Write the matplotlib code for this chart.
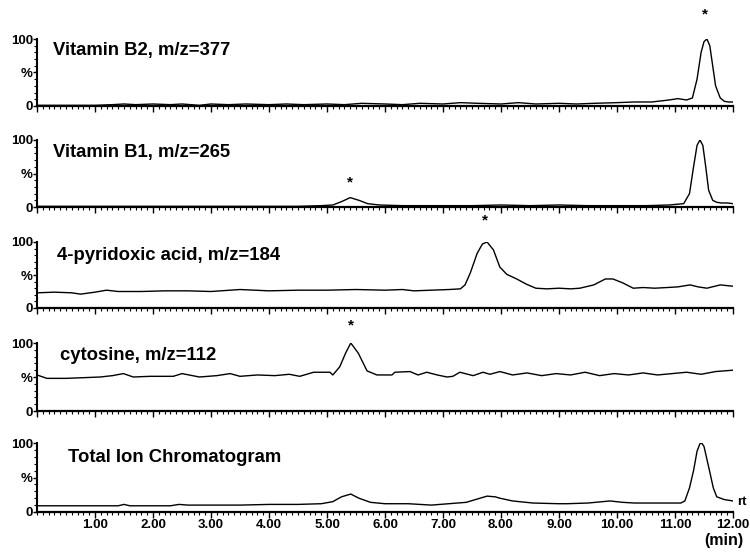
import numpy as np
import matplotlib
matplotlib.use('Agg')
import matplotlib.pyplot as plt
from matplotlib.ticker import MultipleLocator

plt.rcParams['font.family'] = ['Liberation Sans', 'DejaVu Sans']
plt.rcParams['font.weight'] = 'bold'

# retention time (min) / relative intensity (%)
b2_t = [0, 0.5, 1.0, 1.3, 1.5, 1.7, 2.0, 2.3, 2.5, 2.8, 3.0, 3.3, 3.6, 4.0, 4.3, 4.6,
        5.0, 5.3, 5.6, 6.0, 6.3, 6.6, 7.0, 7.3, 7.6, 8.0, 8.3, 8.6, 9.0, 9.3, 9.6, 10.0,
        10.3, 10.6, 10.9, 11.05, 11.2, 11.3, 11.38, 11.45, 11.5, 11.55, 11.6, 11.65,
        11.7, 11.78, 11.85, 11.92, 12.0]
b2_y = [1, 1, 1, 2, 3, 2, 3, 2, 3, 1, 3, 2, 3, 2, 3, 2,
        3, 2, 4, 3, 2, 4, 3, 5, 4, 3, 5, 3, 4, 3, 4, 5,
        6, 6, 9, 11, 9, 12, 40, 80, 96, 100, 90, 60,
        30, 12, 7, 6, 6]

b1_t = [0, 0.5, 1, 1.5, 2, 2.5, 3, 3.5, 4, 4.5, 4.9, 5.1, 5.25, 5.4, 5.55, 5.7, 5.9,
        6.3, 7, 7.5, 8, 8.5, 9, 9.5, 10, 10.5, 10.9, 11.15, 11.25, 11.32, 11.38, 11.43,
        11.48, 11.53, 11.58, 11.65, 11.72, 11.8, 11.9, 12.0]
b1_y = [1, 1, 1, 1, 1, 1, 1, 1, 1, 1, 2, 3, 8, 14, 10, 5, 3,
        2, 2, 2, 3, 2, 3, 2, 2, 2, 3, 5, 20, 60, 92, 100,
        92, 60, 25, 10, 7, 6, 6, 5]

pa_t = [0, 0.3, 0.6, 0.75, 1.0, 1.2, 1.4, 1.8, 2.2, 2.6, 3.0, 3.5, 4.0, 4.5, 5.0, 5.5,
        6.0, 6.3, 6.5, 6.8, 7.1, 7.3, 7.38, 7.47, 7.59, 7.68, 7.76, 7.87, 7.98, 8.1,
        8.27, 8.44, 8.6, 8.79, 9.0, 9.2, 9.36, 9.6, 9.8, 9.93, 10.1, 10.28, 10.45,
        10.65, 10.86, 11.05, 11.26, 11.4, 11.55, 11.78, 12.0]
pa_y = [23, 24, 23, 21, 24, 27, 25, 25, 26, 26, 25, 28, 26, 27, 27, 28,
        27, 28, 26, 27, 28, 29, 35, 53, 83, 97, 100, 88, 62, 51,
        44, 36, 30, 29, 30, 29, 30, 35, 44, 44, 38, 30, 31,
        30, 31, 32, 35, 32, 30, 35, 33]

cy_t = [0, 0.17, 0.5, 0.8, 1.09, 1.3, 1.49, 1.66, 1.95, 2.35, 2.5, 2.8, 3.1, 3.33, 3.5,
        3.8, 4.1, 4.35, 4.53, 4.77, 5.05, 5.1, 5.22, 5.32, 5.41, 5.54, 5.69, 5.86, 6.12,
        6.17, 6.43, 6.57, 6.72, 6.9, 7.07, 7.17, 7.29, 7.52, 7.69, 7.81, 7.98, 8.2, 8.45,
        8.7, 8.95, 9.2, 9.45, 9.7, 9.95, 10.2, 10.45, 10.7, 10.95, 11.2, 11.45, 11.7, 12.0]
cy_y = [53, 48, 48, 49, 50, 52, 55, 50, 51, 51, 55, 50, 52, 55, 51,
        53, 52, 54, 51, 57, 57, 53, 65, 85, 100, 85, 59, 53, 53,
        57, 58, 53, 57, 53, 50, 51, 57, 52, 57, 54, 58, 53, 56,
        52, 55, 53, 57, 52, 55, 53, 56, 53, 55, 57, 54, 58, 60]

tic_t = [0, 0.5, 1.0, 1.4, 1.5, 1.6, 2.0, 2.3, 2.45, 2.6, 3.0, 3.5, 4.0, 4.5, 4.9, 5.1,
         5.25, 5.41, 5.55, 5.75, 6.0, 6.4, 6.8, 7.1, 7.4, 7.6, 7.76, 7.9, 7.98, 8.2, 8.55,
         9.0, 9.14, 9.5, 9.88, 10.1, 10.3, 10.7, 11.1, 11.17, 11.25, 11.32, 11.38, 11.43,
         11.46, 11.5, 11.6, 11.66, 11.72, 11.85, 12.0]
tic_y = [9, 9, 9, 9, 11, 9, 9, 9, 11, 10, 10, 10, 11, 11, 12, 15,
         22, 26, 20, 14, 12, 12, 10, 12, 14, 19, 23, 22, 20, 16, 13,
         12, 12, 13, 16, 14, 13, 13, 13, 16, 35, 60, 88, 99,
         100, 95, 58, 35, 22, 18, 16]

labels = ['Vitamin B2, m/z=377', 'Vitamin B1, m/z=265', '4-pyridoxic acid, m/z=184',
          'cytosine, m/z=112', 'Total Ion Chromatogram']
traces = [(b2_t, b2_y), (b1_t, b1_y), (pa_t, pa_y), (cy_t, cy_y), (tic_t, tic_y)]
# asterisk marks: (time, height in %) per panel
stars = [[(11.52, 136)], [(5.40, 37)], [(7.72, 132)], [(5.41, 126)], []]

fig = plt.figure(figsize=(7.5, 5.53), dpi=100)
W, H = 750.0, 553.0
# pixel rows of the 100 and 0 lines of each panel
rows = [(39, 106), (140, 207), (242, 308), (343, 411), (443, 512)]
lab_x = [53, 53, 57, 60, 68]
lab_y = [51, 153, 255, 355, 457]

for i, (top, bot) in enumerate(rows):
    ax = fig.add_axes([37 / W, 1 - bot / H, 696 / W, (bot - top) / H])
    t, y = traces[i]
    ax.plot(t, y, color='black', lw=1.0)
    ax.set_xlim(0, 12)
    ax.set_ylim(0, 100)
    ax.spines['top'].set_visible(False)
    ax.spines['right'].set_visible(False)
    ax.spines['left'].set_linewidth(1.5)
    ax.spines['bottom'].set_linewidth(1.6)
    ax.xaxis.set_major_locator(MultipleLocator(1))
    ax.xaxis.set_minor_locator(MultipleLocator(0.1))
    ax.set_yticks([0, 50, 100])
    ax.set_yticklabels(['0', '%', '100'])
    ax.yaxis.set_minor_locator(MultipleLocator(10))
    ax.tick_params(axis='y', which='major', length=3, width=1, pad=0, labelsize=9.5)
    ax.tick_params(axis='y', which='minor', length=2, width=0.8)
    ax.tick_params(axis='x', which='major', length=4, width=1, pad=1, labelsize=9.5)
    ax.tick_params(axis='x', which='minor', length=2.5, width=0.8)
    for lab in ax.get_yticklabels():
        lab.set_fontweight('bold')
    if i < 4:
        ax.set_xticklabels([])
    else:
        ax.set_xticks(np.arange(1, 13))
        ax.set_xticklabels(['%.2f' % v for v in np.arange(1, 13)], fontweight='bold')
        ax.text(1.013, 0.15, 'rt', transform=ax.transAxes, fontsize=9.5,
                fontweight='bold', ha='center', va='center')
    for (st, sy) in stars[i]:
        ax.text(st, sy, '*', ha='center', va='center', fontsize=11,
                fontweight='bold', clip_on=False)
    fig.text(lab_x[i] / W, 1 - lab_y[i] / H, labels[i], fontsize=13.3,
             fontweight='bold', ha='left', va='center')

fig.text(724 / W, 1 - 541 / H, '(min)', fontsize=11.5, fontweight='bold',
         ha='center', va='center')

fig.savefig('out.png', dpi=100)
